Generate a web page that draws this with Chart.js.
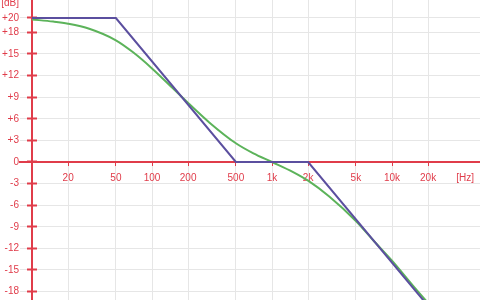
<!DOCTYPE html>
<html>
<head>
<meta charset="utf-8">
<script src="https://cdn.jsdelivr.net/npm/chart.js@4"></script>
<style>
  html, body { margin: 0; padding: 0; background: #fff; }
  #chart { display: block; }
</style>
</head>
<body>
<canvas id="chart" width="480" height="300"></canvas>
<script>
// Straight-line asymptotes (blue)
const asymFreq = [10, 50, 500, 2000, 20000];
const asymDb = [20, 20, 0, 0, -20];

const curveFreq = [10, 15, 20, 30, 50, 70, 100, 150, 200, 300, 500, 700, 1000, 1500, 2000, 3000, 5000, 7000, 10000, 15000, 20000];
const curveDb = [19.8, 19.5, 19.2, 18.5, 16.9, 15.2, 13.0, 10.2, 8.2, 5.5, 2.6, 1.2, 0, -1.4, -2.6, -4.8, -8.2, -10.9, -13.7, -17.2, -19.6];

// Axis ticks
const xTickValues = [20, 50, 100, 200, 500, 1000, 2000, 5000, 10000, 20000, 40600];
const xTickLabels = ['20', '50', '100', '200', '500', '1k', '2k', '5k', '10k', '20k', '[Hz]'];
const yTickValues = [22.1, 20, 18, 15, 12, 9, 6, 3, 0, -3, -6, -9, -12, -15, -18];
const yTickLabels = ['[dB]', '+20', '+18', '+15', '+12', '+9', '+6', '+3', '0', '-3', '-6', '-9', '-12', '-15', '-18'];

const RED = '#e03c4a';
const GRID = '#e6e6e6';
const NONE = 'rgba(0,0,0,0)';
const Y_MIN = -19.17, Y_MAX = 22.5;

Chart.defaults.font.family = '"Liberation Sans", Arial, sans-serif';
Chart.defaults.font.size = 10;

function noPadding(scale) {
   scale.paddingTop = 0;
   scale.paddingBottom = 0;
   scale.paddingLeft = 0;
   scale.paddingRight = 0;
}

function setYTicks(scale) {
   scale.ticks = yTickValues.map(v => ({value: v}));
}

window.onload = () => {
   var ctx = document.getElementById('chart').getContext('2d');
   new Chart(ctx, {
       type: 'line',
       data: {
           datasets: [{
               label: 'asymptotes',
               data: asymFreq.map((f, i) => ({x: f, y: asymDb[i]})),
               borderColor: '#5b4f9f',
               borderWidth: 2,
               pointRadius: 0,
               tension: 0
           }, {
               label: 'response',
               data: curveFreq.map((f, i) => ({x: f, y: curveDb[i]})),
               borderColor: '#5cb35a',
               borderWidth: 2,
               pointRadius: 0,
               cubicInterpolationMode: 'monotone'
           }]
       },
       options: {
           responsive: false,
           animation: false,
           layout: { padding: { left: 20, top: 0, right: 0, bottom: 0 } },
           plugins: { legend: { display: false }, tooltip: { enabled: false } },
           scales: {
               x: {
                   type: 'logarithmic',
                   min: 7.943,      // chart area starts 12px left of the 10 Hz axis
                   max: 54117,
                   position: { y: 0 },
                   afterBuildTicks: s => { s.ticks = xTickValues.map(v => ({value: v})); },
                   afterFit: noPadding,
                   border: { color: RED, width: 2 },
                   grid: {
                       color: c => c.index === xTickValues.length - 1 ? NONE : GRID,
                       tickColor: c => c.index === xTickValues.length - 1 ? NONE : RED,
                       tickLength: 3,
                       lineWidth: 1
                   },
                   ticks: {
                       autoSkip: false,
                       maxRotation: 0,
                       color: RED,
                       padding: 7,
                       callback: (v, i) => xTickLabels[i]
                   }
               },
               // labels + horizontal grid; sits 13px left of the axis line
               y: {
                   type: 'linear',
                   min: Y_MIN,
                   max: Y_MAX,
                   position: { x: 7.792 },
                   afterBuildTicks: setYTicks,
                   afterFit: noPadding,
                   border: { display: false },
                   grid: {
                       color: c => (c.index === 0 || yTickValues[c.index] === 0) ? NONE : GRID,
                       drawTicks: false,
                       lineWidth: 1
                   },
                   ticks: {
                       autoSkip: false,
                       color: RED,
                       callback: (v, i) => yTickLabels[i]
                   }
               },
               // the red axis line at 10 Hz
               yAxis: {
                   axis: 'y',
                   type: 'linear',
                   min: Y_MIN,
                   max: Y_MAX,
                   position: { x: 10 },
                   afterBuildTicks: setYTicks,
                   afterFit: noPadding,
                   border: { color: RED, width: 2 },
                   grid: { drawOnChartArea: false, drawTicks: false },
                   ticks: { display: false }
               },
               // tick marks crossing the axis line
               yMarks: {
                   axis: 'y',
                   type: 'linear',
                   min: Y_MIN,
                   max: Y_MAX,
                   position: { x: 11.007 },
                   afterBuildTicks: setYTicks,
                   afterFit: noPadding,
                   border: { display: false },
                   grid: {
                       drawOnChartArea: false,
                       tickColor: c => c.index === 0 ? NONE : RED,
                       tickLength: 10,
                       tickWidth: 2
                   },
                   ticks: { display: false }
               }
           }
       }
   });
};
</script>
</body>
</html>
